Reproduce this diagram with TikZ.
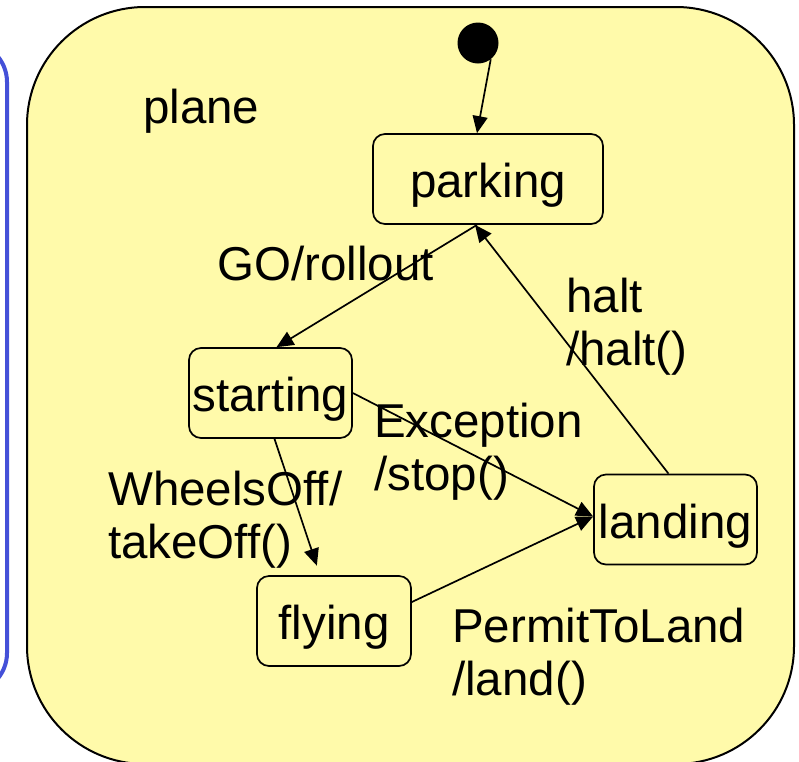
\documentclass[tikz,border=0pt]{standalone}
\usepackage{fontspec}
\setmainfont{Liberation Sans}
\usetikzlibrary{arrows.meta}
\definecolor{planeyellow}{RGB}{255,250,170}
\definecolor{frameblue}{RGB}{68,80,216}
\begin{document}
\begin{tikzpicture}[x=1pt,y=-1pt,
  every node/.style={font=\fontsize{47.5}{53}\selectfont},
  statebox/.style={draw, line width=1.7pt, rounded corners=12pt, fill=planeyellow,
    inner sep=0pt, minimum height=90pt, text height=40pt, text depth=3pt},
  lbl/.style={anchor=base west, inner sep=0pt, align=left},
  conn/.style={line width=1.7pt, -{Triangle[length=17pt,width=15pt]}}]
\useasboundingbox (0,0) rectangle (799,761);
% left (partly visible) frame
\draw[frameblue, line width=4pt, rounded corners=40pt] (-100,42) rectangle (7,693);
% composite state
\draw[line width=2pt, fill=planeyellow, rounded corners=118pt] (27,7) rectangle (794,764);
\node[lbl] (plane) at (143,123) {plane};
% initial pseudo state
\node[circle, fill=black, inner sep=0pt, minimum size=41pt] (init) at (478,43) {};
% states
\node[statebox, minimum width=230pt] (parking) at (488,179) {parking};
\node[statebox, minimum width=163pt] (starting) at (270.5,393) {starting};
\node[statebox, minimum width=154pt] (flying) at (334,621) {flying};
\node[statebox, minimum width=163pt] (landing) at (675.5,519.5) {landing};
% transitions
\draw[conn] (init.-52) -- ([xshift=-11pt]parking.north);
\draw[conn] ([xshift=-11pt]parking.south) -- ([xshift=6pt]starting.north);
\draw[conn] ([xshift=-7pt]landing.north) -- ([xshift=-13pt]parking.south);
\draw[conn] (starting.east) -- ([yshift=3pt]landing.west);
\draw[conn, shorten >=10pt] ([xshift=4pt]starting.south) -- ([xshift=-14pt]flying.north);
\draw[conn] ([yshift=19pt]flying.east) -- ([yshift=3pt]landing.west);
% labels (anchor = baseline of the last line)
\node[lbl] (lgo) at (217,280) {GO/rollout};
\node[lbl] (lhalt) at (566,365) {halt\\/halt()};
\node[lbl] (lexc) at (374,490) {Exception\\/stop()};
\node[lbl] (lwheels) at (108,558) {WheelsOff/\\takeOff()};
\node[lbl] (lpermit) at (452,695) {PermitToLand\\/land()};
\end{tikzpicture}
\end{document}
